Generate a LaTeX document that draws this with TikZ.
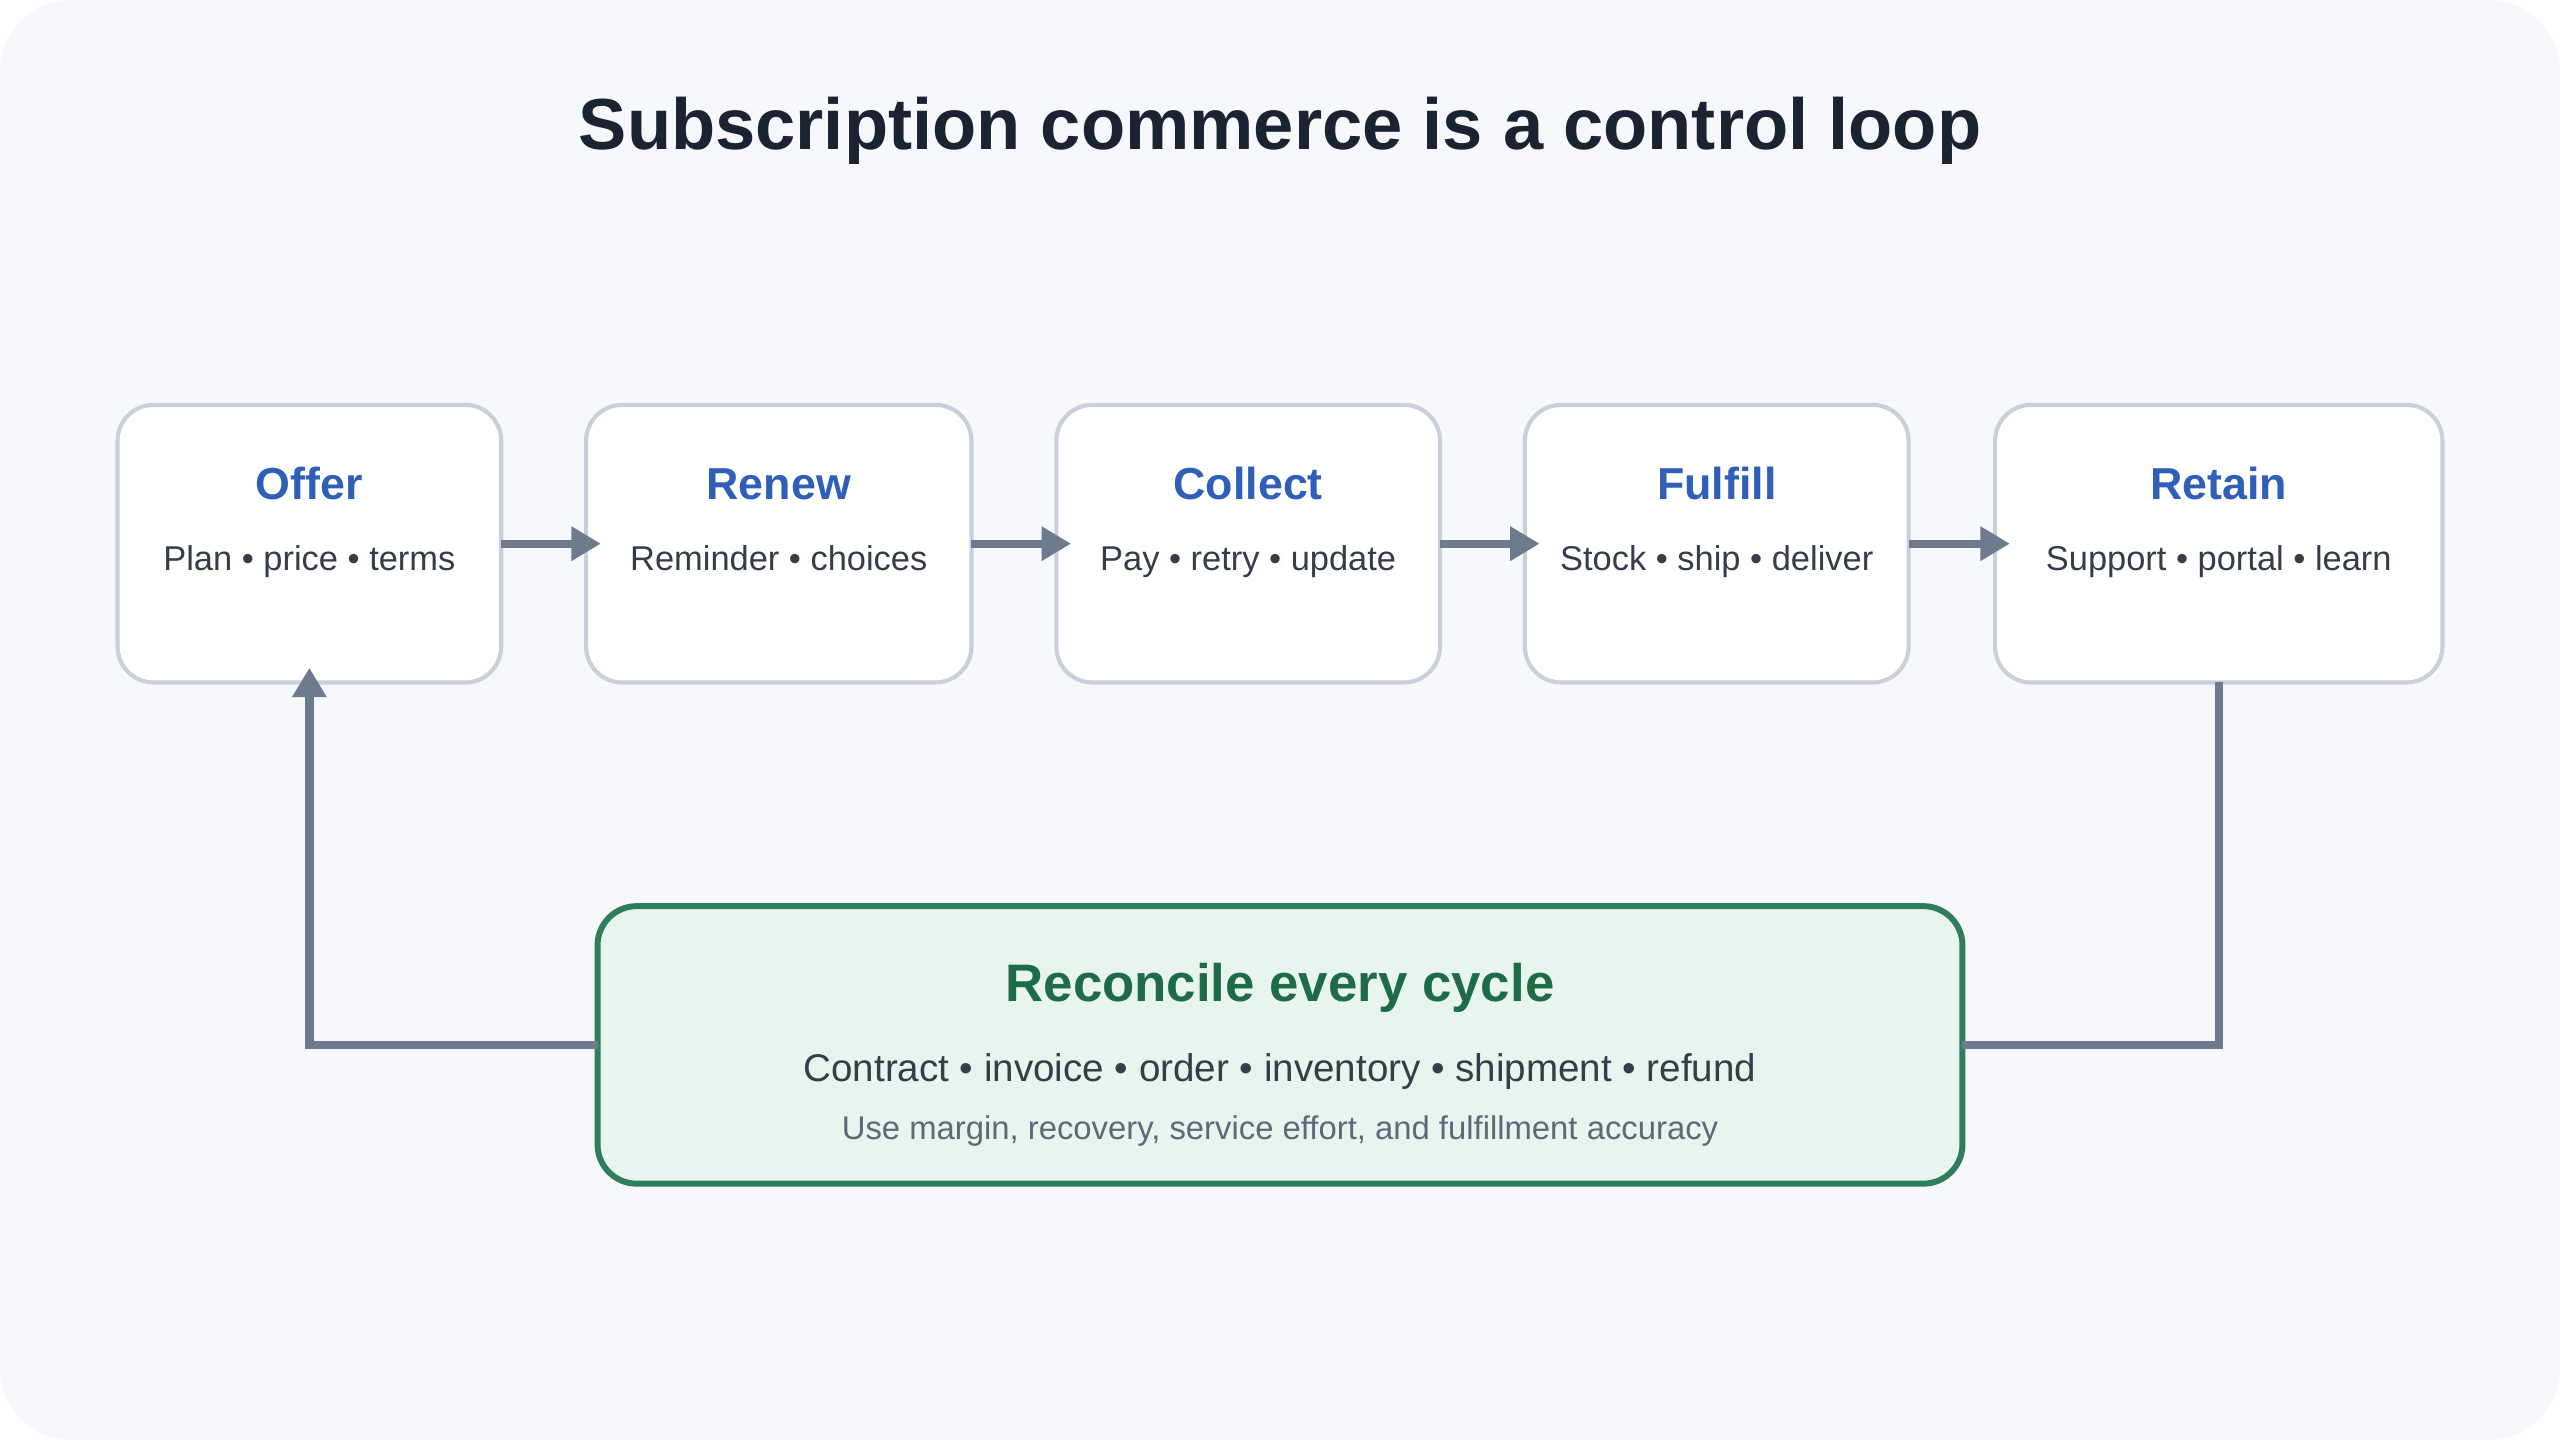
\documentclass[tikz,border=0pt]{standalone}
\usepackage{fontspec}
\setmainfont{Liberation Sans}
\usetikzlibrary{arrows.meta}
\definecolor{bg}{HTML}{F6F8FC}
\definecolor{bd}{HTML}{C9D0DC}
\definecolor{ttl}{HTML}{1B2333}
\definecolor{blu}{HTML}{2F5FB8}
\definecolor{txt}{HTML}{363D4A}
\definecolor{arr}{HTML}{6E7A8E}
\definecolor{gbd}{HTML}{2E7D5B}
\definecolor{gfill}{HTML}{E8F5EE}
\definecolor{gtx}{HTML}{1E6B47}
\definecolor{sub}{HTML}{5E6878}
\begin{document}
\begin{tikzpicture}[x=0.025cm,y=-0.025cm,
  box/.style={draw=bd,line width=1.8pt,fill=white,rounded corners=0.55cm},
  hd/.style={font=\fontsize{19.5}{22}\selectfont\bfseries,text=blu,text height=1.4ex,text depth=0.3ex},
  sb/.style={font=\fontsize{15}{17}\selectfont,text=txt,text height=1.6ex,text depth=0.4ex},
  con/.style={draw=arr,line width=3.6pt,-{Triangle[length=0.45cm,width=0.5cm]}},
  ln/.style={draw=arr,line width=3.6pt}]
\useasboundingbox (0,0) rectangle (1568,882);
\fill[bg,rounded corners=1.1cm] (0,0) rectangle (1568,882);
\node[font=\fontsize{31.5}{36}\selectfont\bfseries,text=ttl] (title) at (784,80) {Subscription commerce is a control loop};
\foreach \n/\a/\b/\t/\s in {offer/72/307/Offer/Plan • price • terms, renew/359/595/Renew/Reminder • choices, collect/647/882/Collect/Pay • retry • update, fulfill/934/1169/Fulfill/Stock • ship • deliver, retain/1222/1496/Retain/Support • portal • learn}{
  \path[box] (\a,248) rectangle (\b,418);
  \coordinate (\n-w) at ({\a+9},333);
  \coordinate (\n-e) at (\b,333);
  \coordinate (\n-s) at ({(\a+\b)/2},409);
  \node[hd] (\n-t) at ({(\a+\b)/2},302) {\t};
  \node[sb] (\n-d) at ({(\a+\b)/2},345) {\s};
}
\draw[con] (offer-e) -- (renew-w);
\draw[con] (renew-e) -- (collect-w);
\draw[con] (collect-e) -- (fulfill-w);
\draw[con] (fulfill-e) -- (retain-w);
\path[draw=gbd,fill=gfill,line width=2.6pt,rounded corners=0.6cm] (366,555) rectangle (1202,725);
\coordinate (rec-w) at (366,640);
\coordinate (rec-e) at (1202,640);
\coordinate (retain-b) at (1359,418);
\node[font=\fontsize{23}{26}\selectfont\bfseries,text=gtx] (rt) at (784,605) {Reconcile every cycle};
\node[font=\fontsize{16.8}{19}\selectfont,text=txt] (rs) at (784,656) {Contract • invoice • order • inventory • shipment • refund};
\node[font=\fontsize{14.3}{16}\selectfont,text=sub] (rn) at (784,693) {Use margin, recovery, service effort, and fulfillment accuracy};
\draw[ln] (retain-b) |- (rec-e);
\draw[con] (rec-w) -| (offer-s);
\end{tikzpicture}
\end{document}
